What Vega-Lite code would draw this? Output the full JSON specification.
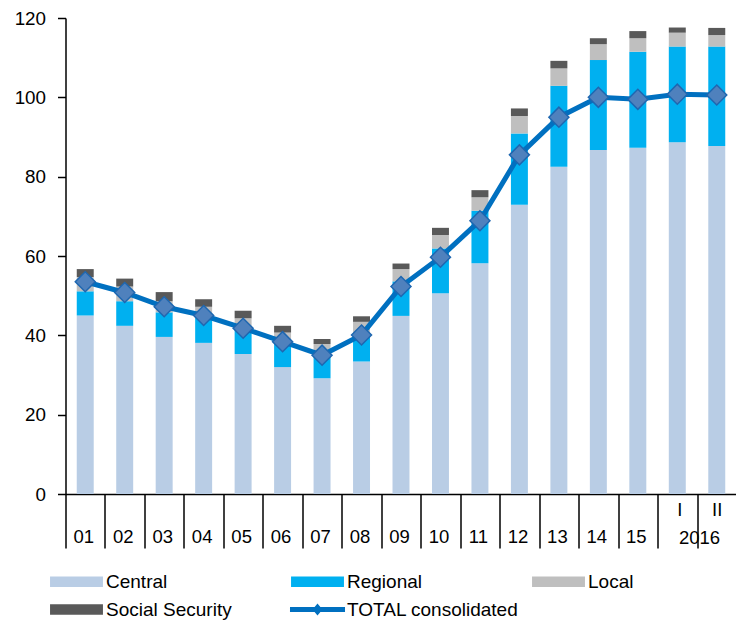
{
  "$schema": "https://vega.github.io/schema/vega-lite/v6.json",
  "width": 671,
  "height": 476,
  "autosize": {"type": "none"},
  "padding": {"left": 65.5, "top": 18, "right": 0, "bottom": 127},
  "background": "white",
  "config": {
    "view": {"stroke": null},
    "font": "Liberation Sans",
    "axis": {"labelFont": "Liberation Sans", "labelColor": "black", "domainColor": "black", "tickColor": "black", "grid": false},
    "axisY": {"labelFontSize": 18.8, "labelPadding": 12, "tickSize": 8, "tickWidth": 1.5, "domainWidth": 1.5},
    "axisX": {"labelFontSize": 18.5}
  },
  "datasets": {
    "bars": [
      {"period": "01", "sector": "Central", "ord": 1, "value": 45.0},
      {"period": "01", "sector": "Regional", "ord": 2, "value": 6.1},
      {"period": "01", "sector": "Local", "ord": 3, "value": 3.6},
      {"period": "01", "sector": "Social Security", "ord": 4, "value": 2.0},
      {"period": "02", "sector": "Central", "ord": 1, "value": 42.4},
      {"period": "02", "sector": "Regional", "ord": 2, "value": 6.2},
      {"period": "02", "sector": "Local", "ord": 3, "value": 3.7},
      {"period": "02", "sector": "Social Security", "ord": 4, "value": 2.0},
      {"period": "03", "sector": "Central", "ord": 1, "value": 39.6},
      {"period": "03", "sector": "Regional", "ord": 2, "value": 6.2},
      {"period": "03", "sector": "Local", "ord": 3, "value": 2.8},
      {"period": "03", "sector": "Social Security", "ord": 4, "value": 2.3},
      {"period": "04", "sector": "Central", "ord": 1, "value": 38.1},
      {"period": "04", "sector": "Regional", "ord": 2, "value": 6.7},
      {"period": "04", "sector": "Local", "ord": 3, "value": 2.4},
      {"period": "04", "sector": "Social Security", "ord": 4, "value": 1.9},
      {"period": "05", "sector": "Central", "ord": 1, "value": 35.3},
      {"period": "05", "sector": "Regional", "ord": 2, "value": 6.7},
      {"period": "05", "sector": "Local", "ord": 3, "value": 2.3},
      {"period": "05", "sector": "Social Security", "ord": 4, "value": 1.9},
      {"period": "06", "sector": "Central", "ord": 1, "value": 32.0},
      {"period": "06", "sector": "Regional", "ord": 2, "value": 6.3},
      {"period": "06", "sector": "Local", "ord": 3, "value": 2.4},
      {"period": "06", "sector": "Social Security", "ord": 4, "value": 1.7},
      {"period": "07", "sector": "Central", "ord": 1, "value": 29.2},
      {"period": "07", "sector": "Regional", "ord": 2, "value": 5.8},
      {"period": "07", "sector": "Local", "ord": 3, "value": 2.8},
      {"period": "07", "sector": "Social Security", "ord": 4, "value": 1.3},
      {"period": "08", "sector": "Central", "ord": 1, "value": 33.4},
      {"period": "08", "sector": "Regional", "ord": 2, "value": 6.8},
      {"period": "08", "sector": "Local", "ord": 3, "value": 3.2},
      {"period": "08", "sector": "Social Security", "ord": 4, "value": 1.4},
      {"period": "09", "sector": "Central", "ord": 1, "value": 44.9},
      {"period": "09", "sector": "Regional", "ord": 2, "value": 8.7},
      {"period": "09", "sector": "Local", "ord": 3, "value": 3.1},
      {"period": "09", "sector": "Social Security", "ord": 4, "value": 1.4},
      {"period": "10", "sector": "Central", "ord": 1, "value": 50.6},
      {"period": "10", "sector": "Regional", "ord": 2, "value": 11.3},
      {"period": "10", "sector": "Local", "ord": 3, "value": 3.4},
      {"period": "10", "sector": "Social Security", "ord": 4, "value": 1.8},
      {"period": "11", "sector": "Central", "ord": 1, "value": 58.2},
      {"period": "11", "sector": "Regional", "ord": 2, "value": 13.2},
      {"period": "11", "sector": "Local", "ord": 3, "value": 3.4},
      {"period": "11", "sector": "Social Security", "ord": 4, "value": 1.8},
      {"period": "12", "sector": "Central", "ord": 1, "value": 72.9},
      {"period": "12", "sector": "Regional", "ord": 2, "value": 18.0},
      {"period": "12", "sector": "Local", "ord": 3, "value": 4.4},
      {"period": "12", "sector": "Social Security", "ord": 4, "value": 1.9},
      {"period": "13", "sector": "Central", "ord": 1, "value": 82.5},
      {"period": "13", "sector": "Regional", "ord": 2, "value": 20.4},
      {"period": "13", "sector": "Local", "ord": 3, "value": 4.4},
      {"period": "13", "sector": "Social Security", "ord": 4, "value": 1.9},
      {"period": "14", "sector": "Central", "ord": 1, "value": 86.7},
      {"period": "14", "sector": "Regional", "ord": 2, "value": 22.7},
      {"period": "14", "sector": "Local", "ord": 3, "value": 4.0},
      {"period": "14", "sector": "Social Security", "ord": 4, "value": 1.5},
      {"period": "15", "sector": "Central", "ord": 1, "value": 87.3},
      {"period": "15", "sector": "Regional", "ord": 2, "value": 24.2},
      {"period": "15", "sector": "Local", "ord": 3, "value": 3.4},
      {"period": "15", "sector": "Social Security", "ord": 4, "value": 1.8},
      {"period": "I", "sector": "Central", "ord": 1, "value": 88.7},
      {"period": "I", "sector": "Regional", "ord": 2, "value": 24.1},
      {"period": "I", "sector": "Local", "ord": 3, "value": 3.5},
      {"period": "I", "sector": "Social Security", "ord": 4, "value": 1.3},
      {"period": "II", "sector": "Central", "ord": 1, "value": 87.7},
      {"period": "II", "sector": "Regional", "ord": 2, "value": 25.1},
      {"period": "II", "sector": "Local", "ord": 3, "value": 2.9},
      {"period": "II", "sector": "Social Security", "ord": 4, "value": 1.8}
    ],
    "total": [
      {"period": "01", "value": 53.5},
      {"period": "02", "value": 50.8},
      {"period": "03", "value": 47.2},
      {"period": "04", "value": 45.0},
      {"period": "05", "value": 41.8},
      {"period": "06", "value": 38.4},
      {"period": "07", "value": 35.0},
      {"period": "08", "value": 40.1},
      {"period": "09", "value": 52.3},
      {"period": "10", "value": 59.7},
      {"period": "11", "value": 68.9},
      {"period": "12", "value": 85.5},
      {"period": "13", "value": 95.0},
      {"period": "14", "value": 100.0},
      {"period": "15", "value": 99.5},
      {"period": "I", "value": 100.8},
      {"period": "II", "value": 100.6}
    ]
  },
  "layer": [
    {
      "data": {"name": "bars"},
      "mark": {"type": "bar", "width": {"band": 0.43}},
      "encoding": {
        "x": {
          "field": "period",
          "type": "ordinal",
          "sort": ["01","02","03","04","05","06","07","08","09","10","11","12","13","14","15","I","II"],
          "scale": {"paddingInner": 0, "paddingOuter": 0},
          "axis": {
            "title": "2016",
            "titleX": 633.5,
            "titleY": 49,
            "titleAlign": "center",
            "titleAnchor": "start",
            "titleBaseline": "alphabetic",
            "titleFont": "Liberation Sans",
            "titleFontSize": 18.5,
            "titleFontWeight": "normal",
            "titleColor": "black",
            "labelAngle": 0,
            "labelOverlap": false,
            "tickBand": "extent",
            "domainWidth": 1.5,
            "tickWidth": 1.5,
            "tickSize": {"condition": {"test": "datum.value === 'II'", "value": 26}, "value": 54},
            "labelFontSize": 18.5,
            "labelOffset": {"condition": [{"test": "datum.value === 'I'", "value": 2}, {"test": "datum.value === 'II'", "value": 0}], "value": -2},
            "labelBaseline": "top",
            "labelPadding": {"condition": [{"test": "datum.value === 'I'", "value": -48}, {"test": "datum.value === 'II'", "value": -20}], "value": -21}
          }
        },
        "y": {
          "field": "value",
          "type": "quantitative",
          "stack": "zero",
          "scale": {"domain": [0, 120], "nice": false},
          "axis": {
            "title": null,
            "values": [0, 20, 40, 60, 80, 100, 120],
            "tickSize": 8,
            "tickWidth": 1.5,
            "domainWidth": 1.5,
            "labelFontSize": 18.8,
            "labelPadding": 12
          }
        },
        "color": {
          "field": "sector",
          "type": "nominal",
          "scale": {
            "domain": ["Central", "Regional", "Local", "Social Security", "TOTAL consolidated"],
            "range": ["#B9CDE5", "#00B0F0", "#BFBFBF", "#595959", "#0070C0"]
          },
          "legend": {
            "orient": "none",
            "legendX": 1.5,
            "legendY": 554,
            "direction": "horizontal",
            "columns": 3,
            "gridAlign": "all",
            "columnPadding": 11,
            "rowPadding": 8,
            "title": null,
            "padding": 0,
            "labelFont": "Liberation Sans",
            "labelFontSize": 19,
            "labelColor": "black",
            "labelLimit": 0,
            "labelOffset": 20,
            "symbolSize": 112,
            "symbolType": "M-5,-1H5V1H-5Z",
            "symbolStrokeWidth": 0,
            "symbolOpacity": 1,
            "encode": {
              "symbols": {
                "update": {
                  "shape": {"signal": "datum.value === 'TOTAL consolidated' ? 'M-5.2,-0.47H5.2V0.47H-5.2Z M0,-1.13L0.94,0L0,1.13L-0.94,0Z' : 'M-5,-1H5V1H-5Z'"}
                }
              }
            }
          }
        },
        "order": {"field": "ord", "type": "quantitative"}
      }
    },
    {
      "data": {"name": "total"},
      "mark": {
        "type": "line",
        "color": "#0070C0",
        "strokeWidth": 5,
        "point": {"shape": "diamond", "size": 400, "filled": true, "fill": "#4F81BD", "stroke": "#1F67B0", "strokeWidth": 1.5, "opacity": 1}
      },
      "encoding": {
        "x": {"field": "period", "type": "ordinal", "sort": ["01","02","03","04","05","06","07","08","09","10","11","12","13","14","15","I","II"]},
        "y": {"field": "value", "type": "quantitative"}
      }
    }
  ]
}
